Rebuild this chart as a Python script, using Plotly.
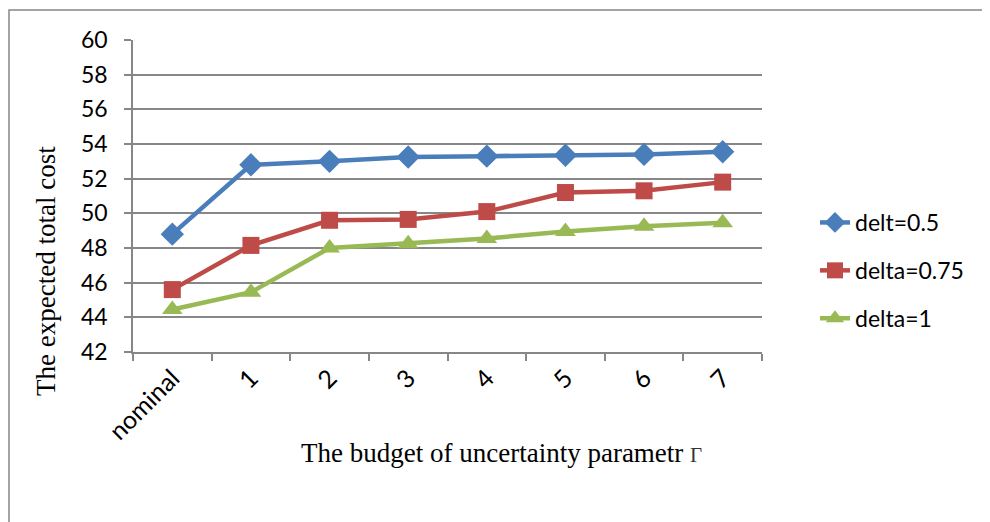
import plotly.graph_objects as go

categories = ["nominal", "1", "2", "3", "4", "5", "6", "7"]
delt_05 = [48.8, 52.8, 53.0, 53.25, 53.3, 53.35, 53.4, 53.55]
delta_075 = [45.6, 48.15, 49.6, 49.65, 50.1, 51.2, 51.3, 51.8]
delta_1 = [44.45, 45.45, 48.0, 48.25, 48.55, 48.95, 49.25, 49.45]
series_names = ["delt=0.5", "delta=0.75", "delta=1"]
y_ticks = [42, 44, 46, 48, 50, 52, 54, 56, 58, 60]

OFF = 8  # default page body margin
W, H = 990 - OFF, 522 - OFF
# plot area in page pixels
L, R, T, B = 133, 762, 40, 352
Lf, Rf, Tf, Bf = L - OFF, R - OFF, T - OFF, B - OFF

fig = go.Figure()
styles = [
    ("#4A7EBB", "diamond", 18),
    ("#BE4B48", "square", 17),
    ("#98B954", "triangle-up", 18),
]
for i, (vals, name) in enumerate(zip([delt_05, delta_075, delta_1], series_names)):
    c, sym, sz = styles[i]
    fig.add_trace(go.Scatter(
        x=categories, y=vals, name=name, mode="lines+markers",
        line=dict(color=c, width=4.5),
        marker=dict(symbol=sym, size=sz, color=c),
        legendgroup=name,
    ))

def px(x):
    # page x -> paper
    return (x - OFF - Lf) / (Rf - Lf)

def py(y):
    return (Bf - (y - OFF)) / (Bf - Tf)

FONT = "Lato, Open Sans, sans-serif"
fig.update_layout(
    width=W, height=H,
    margin=dict(l=Lf, r=W - Rf, t=Tf, b=H - Bf),
    paper_bgcolor="white", plot_bgcolor="white",
    showlegend=True,
    legend=dict(
        x=px(815), y=py(201), xanchor="left", yanchor="top",
        font=dict(family=FONT, size=23, color="black"),
        tracegroupgap=15, traceorder="grouped",
        bgcolor="rgba(0,0,0,0)",
    ),
    xaxis=dict(
        type="category", tickangle=-45,
        tickfont=dict(family=FONT, size=25, color="black"),
        showgrid=False, showline=True, linecolor="#878787", linewidth=1.5,
        ticks="outside", tickson="boundaries", ticklen=7, tickcolor="#878787",
        tickwidth=1.5, range=[-0.5, 7.5],
    ),
    yaxis=dict(
        range=[42, 60], tickvals=y_ticks,
        tickfont=dict(family=FONT, size=23, color="black"),
        showgrid=True, gridcolor="#878787", gridwidth=1.5,
        showline=True, linecolor="#878787", linewidth=1.5,
        ticks="outside", ticklen=7, tickcolor="#878787", tickwidth=1.5,
        ticklabelstandoff=12,
        zeroline=False,
    ),
    annotations=[
        dict(text="The expected total cost", xref="paper", yref="paper",
             x=px(46), y=py(271), xanchor="center", yanchor="middle",
             textangle=-90, showarrow=False,
             font=dict(family="Liberation Serif, serif", size=27, color="black")),
        dict(text="The budget of uncertainty parametr <span style='font-size:21px;color:#333'>Γ</span>",
             xref="paper", yref="paper",
             x=px(501), y=py(453), xanchor="center", yanchor="middle", showarrow=False,
             font=dict(family="Liberation Serif, serif", size=27, color="black")),
    ],
    shapes=[
        dict(type="rect", xref="paper", yref="paper",
             x0=px(9), y0=py(540), x1=px(1010), y1=py(10),
             line=dict(color="#878787", width=1.5), layer="below"),
    ],
)

fig.write_html("out.html")
